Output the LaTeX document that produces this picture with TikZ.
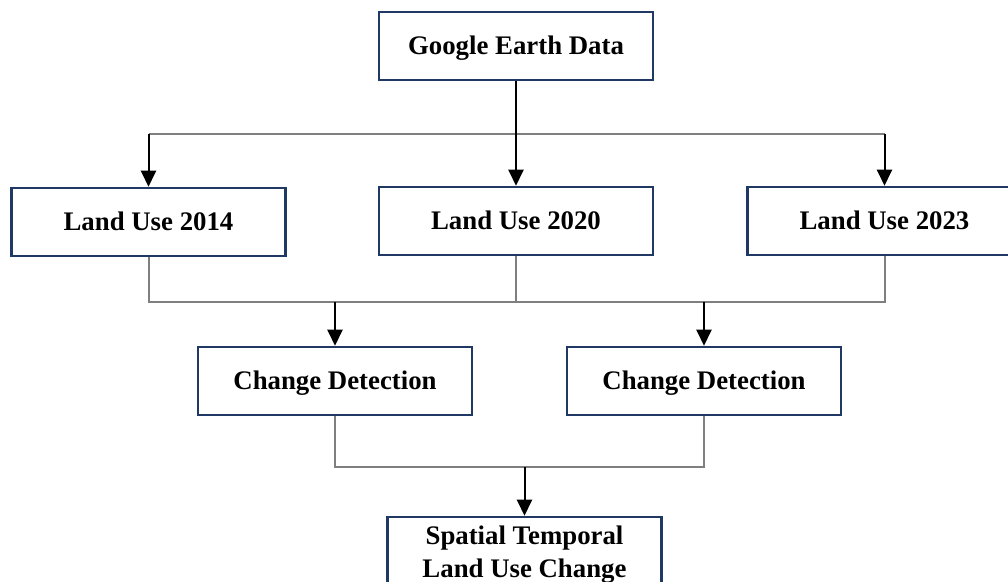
\documentclass[tikz,border=0pt]{standalone}
\usepackage{fontspec}
\setmainfont{Liberation Serif}
\usetikzlibrary{arrows.meta}
\definecolor{boxblue}{HTML}{1F3864}
\definecolor{linegray}{HTML}{7F7F7F}
\tikzset{
  box/.style={draw=boxblue, line width=1.25pt, fill=white, minimum width=137pt,
    minimum height=34pt, inner sep=2pt, align=center, text height=12pt, text depth=3pt,
    font=\fontsize{13.4pt}{16.5pt}\selectfont\bfseries},
  arr/.style={-{Triangle[width=7.5pt,length=8pt]}, line width=1pt, black},
  link/.style={line width=1pt, linegray}
}
\begin{document}
\begin{tikzpicture}[x=0.5pt,y=-0.5pt]
    \clip (0,0) rectangle (1008,582);

    % Boxes
    \node[box] (ged) at (516,46) {Google Earth Data};
    \node[box] (lu14) at (148.5,222) {Land Use 2014};
    \node[box] (lu20) at (516,221) {Land Use 2020};
    \node[box] (lu23) at (884.5,221) {Land Use 2023};
    \node[box] (cd1) at (335,381) {Change Detection};
    \node[box] (cd2) at (704,381) {Change Detection};
    \node[box, text height=, text depth=, minimum height=38pt] (stc) at (524.5,555) {Spatial Temporal\\Land Use Change};

    % Split / merge points
    \coordinate (split) at (516,134);
    \coordinate (merge) at (516,302);
    \coordinate (final) at (526,467);

    % Data -> land use maps
    \draw[link] (lu14.north |- split) -- (lu23.north |- split);
    \draw[arr] (ged) -- (lu20);
    \foreach \n in {lu14,lu23}
        \draw[arr] (\n.north |- split) -- (\n.north);

    % Land use maps -> change detection
    \draw[link] (lu14.south) -- (lu14.south |- merge) -- (lu23.south |- merge) -- (lu23.south);
    \draw[link] (lu20.south) -- (merge);
    \foreach \n in {cd1,cd2}
        \draw[arr] (\n.north |- merge) -- (\n.north);

    % Change detection -> result
    \draw[link] (cd1.south) -- (cd1.south |- final) -- (cd2.south |- final) -- (cd2.south);
    \draw[arr] (stc.north |- final) -- (stc.north);
\end{tikzpicture}
\end{document}
